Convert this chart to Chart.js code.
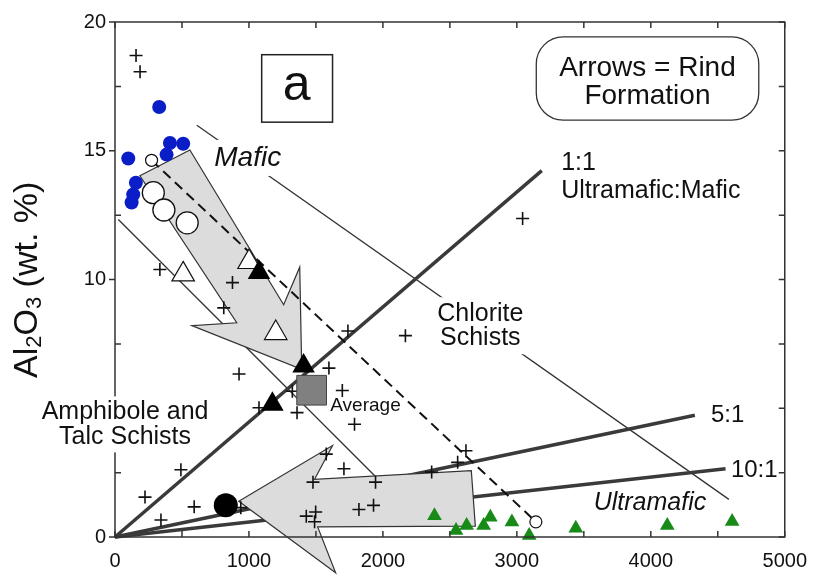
<!DOCTYPE html>
<html><head><meta charset="utf-8">
<script src="https://cdn.jsdelivr.net/npm/chart.js@4.4.1/dist/chart.umd.min.js"></script>
<style>html,body{margin:0;padding:0;background:#fff}</style>
</head><body>
<canvas id="c" width="819" height="579"></canvas>
<script>
// ---------- data (x = ppm-like abscissa, y = Al2O3 wt.%) ----------
const xTickLabels = [0, 1000, 2000, 3000, 4000, 5000];
const yTickLabels = [0, 10, 15, 20];

const maficRocks = [[330,16.7],[99,14.7],[410,15.3],[509,15.27],[385,14.85],[156,13.76],[136,13.3],[124,12.99]];
const ultramaficRocks = [[2385,0.83],[2546,0.25],[2625,0.45],[2752,0.45],[2802,0.77],[2963,0.58],[3092,0.06],[3440,0.34],[4123,0.45],[4607,0.6]];
const schists = [
  [157,18.7],[187,18.07],
  [335,10.39],[877,9.88],[812,8.9],[926,6.33],[1597,6.56],[1697,5.69],[1324,5.66],[1075,5.02],[1359,4.83],[1788,4.38],[1739,8.0],[2168,7.82],[3043,12.37],
  [492,2.61],[224,1.55],[591,1.17],[343,0.66],[939,1.14],[1577,3.22],[1709,2.65],[1478,2.13],[1945,2.13],[1821,1.07],[1930,1.23],[1428,0.81],[1498,0.97],[1490,0.59],[2364,2.52],[2558,2.9],[2620,3.35]
];
const rindOpenCircles = [[286,13.37],[365,12.7],[539,12.2]];
const endMembers = [[273,14.63],[3142,0.59]];
const rindOpenTriangles = [[1001,10.68],[509,10.2],[1200,7.92]];
const rindBlackTriangles = [[1075,10.27],[1408,6.64],[1175,5.16]];
const averageRock = [[1468,5.70]];
const rindBlackCircle = [[827,1.23]];

const ratio1to1 = [[0,0],[3186,14.23]];
const ratio5to1 = [[0,0],[4329,4.73]];
const ratio10to1 = [[0,0],[4558,2.65]];
const maficBoundary = [[611,15.99],[4583,1.46]];
const amphiboleBoundary = [[25,12.33],[1952,2.31]];
const mixingLine = [[273,14.63],[3142,0.59]];

const upperArrow = [[186,14.03],[559,15.03],[1259,9.02],[1379,10.48],[1394,6.51],[574,8.21],[909,8.32]];
const lowerArrow = [[924,1.39],[1624,3.55],[1490,2.24],[2660,2.58],[2690,0.42],[1513,0.39],[1647,-1.39]];

// ---------- helpers ----------
const F = "'Liberation Sans', Arial, Helvetica, sans-serif";
const toXY = a => a.map(([x, y]) => ({x, y}));
function px(chart, p) { return [chart.scales.x.getPixelForValue(p[0]), chart.scales.y.getPixelForValue(p[1])]; }

function markers(label, data, style, r, fill, stroke, bw) {
  return { label, data: toXY(data), pointStyle: style, pointRadius: r, pointHoverRadius: r,
    backgroundColor: fill, borderColor: stroke, pointBackgroundColor: fill, pointBorderColor: stroke,
    pointBorderWidth: bw, borderWidth: bw, showLine: false, clip: false, order: 1 };
}
function line(label, data, color, width, dash, order) {
  return { label, data: toXY(data), showLine: true, pointRadius: 0, pointHoverRadius: 0,
    borderColor: color, borderWidth: width, borderDash: dash || [], fill: false, clip: false, order,
    borderCapStyle: 'butt' };
}

function polygon(ctx, chart, pts) {
  ctx.beginPath();
  pts.forEach((p, i) => { const [a, b] = px(chart, p); i ? ctx.lineTo(a, b) : ctx.moveTo(a, b); });
  ctx.closePath();
  ctx.fillStyle = '#dcdcdc'; ctx.fill();
  ctx.lineWidth = 1.2; ctx.strokeStyle = '#333'; ctx.lineJoin = 'miter'; ctx.stroke();
}

function textLines(ctx, chart, lines, dx, dy, size, align, opts) {
  opts = opts || {};
  const font = (opts.italic ? 'italic ' : '') + size + 'px ' + F;
  const [x, y0] = px(chart, [dx, dy]);
  const lh = opts.lh || size * 0.95;
  ctx.font = font; ctx.textAlign = align; ctx.textBaseline = 'middle';
  if (opts.bg !== undefined) {
    let maxw = 0; lines.forEach(t => { maxw = Math.max(maxw, ctx.measureText(t).width); });
    const x0 = align === 'left' ? x : align === 'center' ? x - maxw / 2 : x - maxw;
    ctx.fillStyle = '#fff';
    ctx.fillRect(x0 - opts.bg, y0 - size * 0.5 - opts.bg, maxw + 2 * opts.bg, size + lh * (lines.length - 1) + 2 * opts.bg);
  }
  ctx.fillStyle = '#111';
  lines.forEach((t, i) => ctx.fillText(t, x, y0 + i * lh));
}

const arrowPlugin = {
  id: 'arrows',
  beforeDatasetDraw(chart, args) {
    if (chart.data.datasets[args.index].label !== 'mixing') return;
    const ctx = chart.ctx;
    ctx.save();
    polygon(ctx, chart, upperArrow);
    polygon(ctx, chart, lowerArrow);
    ctx.restore();
  }
};

const framePlugin = {
  id: 'frame',
  afterDatasetsDraw(chart) {
    const {ctx, chartArea: a, scales: {x, y}} = chart;
    ctx.save();
    ctx.strokeStyle = '#333'; ctx.lineWidth = 1.5;
    ctx.strokeRect(a.left, a.top, a.right - a.left, a.bottom - a.top);
    ctx.beginPath();
    x.ticks.forEach(t => {
      const p = x.getPixelForValue(t.value);
      ctx.moveTo(p, a.bottom); ctx.lineTo(p, a.bottom - 6);
      ctx.moveTo(p, a.top); ctx.lineTo(p, a.top + 6);
    });
    y.ticks.forEach(t => {
      const p = y.getPixelForValue(t.value);
      if (yTickLabels.includes(t.value)) { ctx.moveTo(a.left, p); ctx.lineTo(a.left - 6, p); }
      else { ctx.moveTo(a.left, p); ctx.lineTo(a.left + 6, p); }
      ctx.moveTo(a.right, p); ctx.lineTo(a.right - 6, p);
    });
    ctx.stroke();
    ctx.restore();
  }
};

const labelPlugin = {
  id: 'labels',
  afterDraw(chart) {
    const ctx = chart.ctx;
    ctx.save();
    // "a" panel box
    const [ax0, ay0] = px(chart, [1095, 18.73]), [ax1, ay1] = px(chart, [1624, 16.11]);
    ctx.fillStyle = '#fff'; ctx.fillRect(ax0, ay0, ax1 - ax0, ay1 - ay0);
    ctx.strokeStyle = '#222'; ctx.lineWidth = 1.5; ctx.strokeRect(ax0, ay0, ax1 - ax0, ay1 - ay0);
    textLines(ctx, chart, ['a'], 1356, 17.5, 50, 'center');
    // rounded box
    const [bx0, by0] = px(chart, [3145, 19.42]), [bx1, by1] = px(chart, [4806, 16.19]);
    const r = 27;
    ctx.beginPath();
    ctx.moveTo(bx0 + r, by0); ctx.lineTo(bx1 - r, by0);
    ctx.arcTo(bx1, by0, bx1, by0 + r, r); ctx.lineTo(bx1, by1 - r);
    ctx.arcTo(bx1, by1, bx1 - r, by1, r); ctx.lineTo(bx0 + r, by1);
    ctx.arcTo(bx0, by1, bx0, by1 - r, r); ctx.lineTo(bx0, by0 + r);
    ctx.arcTo(bx0, by0, bx0 + r, by0, r); ctx.closePath();
    ctx.fillStyle = '#fff'; ctx.fill();
    ctx.strokeStyle = '#333'; ctx.lineWidth = 1.3; ctx.stroke();
    textLines(ctx, chart, ['Arrows = Rind', 'Formation'], 3975, 18.19, 28, 'center', {lh: 28});
    // annotations
    textLines(ctx, chart, ['Mafic'], 991, 14.72, 28, 'center', {italic: true, bg: 4});
    textLines(ctx, chart, ['1:1'], 3331, 14.53, 25, 'left');
    textLines(ctx, chart, ['Ultramafic:Mafic'], 3331, 13.45, 25, 'left');
    textLines(ctx, chart, ['Chlorite', 'Schists'], 2727, 8.67, 25, 'center', {bg: 4, lh: 24});
    textLines(ctx, chart, ['Average'], 1870, 5.09, 19, 'center');
    textLines(ctx, chart, ['Amphibole and', 'Talc Schists'], 75, 4.86, 25, 'center', {bg: 3, lh: 25});
    textLines(ctx, chart, ['Ultramafic'], 3994, 1.31, 25, 'center', {italic: true});
    textLines(ctx, chart, ['5:1'], 4449, 4.74, 24, 'left');
    textLines(ctx, chart, ['10:1'], 4598, 2.58, 24, 'left');
    // y-axis title with subscripts
    ctx.translate(37, 378);
    ctx.rotate(-Math.PI / 2);
    ctx.fillStyle = '#111'; ctx.textAlign = 'left'; ctx.textBaseline = 'alphabetic';
    const big = '34px ' + F, small = '22px ' + F;
    let xx = 0;
    [['Al', big, 0], ['2', small, 4], ['O', big, 0], ['3', small, 4], [' (wt. %)', big, 0]].forEach(([t, f, d]) => {
      ctx.font = f; ctx.fillText(t, xx, d); xx += ctx.measureText(t).width;
    });
    ctx.restore();
  }
};

new Chart(document.getElementById('c'), {
  type: 'scatter',
  data: {
    datasets: [
      markers('rind black circle', rindBlackCircle, 'circle', 12, '#000', '#000', 0),
      markers('average', averageRock, 'rect', 21, '#808080', '#444', 1),
      markers('rind black triangles', rindBlackTriangles, 'triangle', 13, '#000', '#000', 0),
      markers('rind open triangles', rindOpenTriangles, 'triangle', 13, '#fff', '#111', 1.2),
      markers('rind open circles', rindOpenCircles, 'circle', 11, '#fff', '#111', 1.3),
      markers('end members', endMembers, 'circle', 6, '#fff', '#111', 1.2),
      markers('schists', schists, 'cross', 6.5, '#111', '#111', 1.6),
      markers('mafic', maficRocks, 'circle', 7, '#0a1ec8', '#0a1ec8', 0),
      markers('ultramafic', ultramaficRocks, 'triangle', 8.5, '#178a17', '#178a17', 0),
      line('mixing', mixingLine, '#111', 2, [10, 6], 5),
      line('1:1', ratio1to1, '#3a3a3a', 3.5, null, 10),
      line('5:1', ratio5to1, '#3a3a3a', 3.5, null, 10),
      line('10:1', ratio10to1, '#3a3a3a', 3.5, null, 10),
      line('mafic boundary', maficBoundary, '#333', 1.3, null, 10),
      line('amphibole boundary', amphiboleBoundary, '#333', 1.3, null, 10)
    ]
  },
  options: {
    responsive: false,
    animation: false,
    events: [],
    devicePixelRatio: 1,
    layout: { padding: { top: 18, right: 33, left: 0, bottom: 0 } },
    plugins: { legend: { display: false }, tooltip: { enabled: false } },
    scales: {
      x: {
        type: 'linear', min: 0, max: 5000,
        grid: { display: false, drawTicks: false },
        border: { display: false },
        ticks: { stepSize: 500, padding: 12, color: '#111', font: { size: 20, family: F },
          maxRotation: 0, autoSkip: false,
          callback: v => xTickLabels.includes(v) ? String(v) : '' },
        afterFit: s => { s.height = 42; }
      },
      y: {
        type: 'linear', min: 0, max: 20,
        grid: { display: false, drawTicks: false },
        border: { display: false },
        ticks: { stepSize: 2.5, padding: 9, color: '#111', font: { size: 20, family: F }, autoSkip: false,
          callback: v => yTickLabels.includes(v) ? String(v) : '' },
        afterFit: s => { s.width = 115; }
      }
    }
  },
  plugins: [arrowPlugin, framePlugin, labelPlugin]
});
</script>
</body></html>
